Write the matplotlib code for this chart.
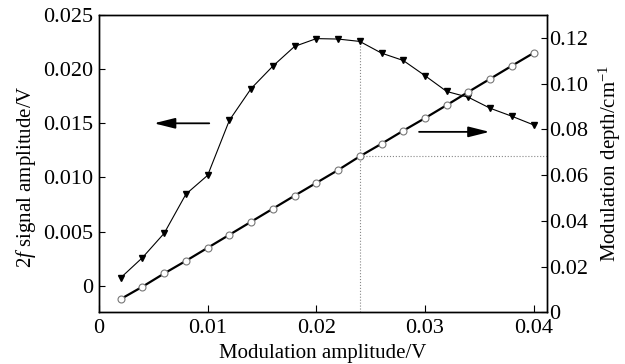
import numpy as np
import matplotlib
matplotlib.use("Agg")
import matplotlib.pyplot as plt

plt.rcParams['font.family'] = ['Liberation Serif', 'DejaVu Serif']
plt.rcParams['mathtext.fontset'] = 'custom'
plt.rcParams['mathtext.rm'] = 'Liberation Serif'
plt.rcParams['mathtext.it'] = 'Liberation Serif:italic'

# modulation amplitude (V)
mod_amp = [0.002, 0.004, 0.006, 0.008, 0.010, 0.012, 0.014, 0.016, 0.018, 0.020,
           0.022, 0.024, 0.026, 0.028, 0.030, 0.032, 0.034, 0.036, 0.038, 0.040]
# 2f signal amplitude (V), left axis
signal_2f = [0.00074, 0.0026, 0.00485, 0.00846, 0.0102, 0.01528, 0.01821, 0.02028, 0.0221, 0.02282,
             0.02278, 0.02256, 0.02148, 0.0208, 0.0194, 0.01794, 0.0174, 0.01639, 0.01565, 0.01485]
# modulation depth (cm^-1), right axis
mod_depth = [0.0058, 0.0112, 0.0170, 0.0225, 0.0282, 0.0339, 0.0396, 0.0453, 0.0510, 0.0566,
             0.0622, 0.0682, 0.0737, 0.0794, 0.0849, 0.0906, 0.0964, 0.1021, 0.1078, 0.1134]

x_ticks = [0, 0.01, 0.02, 0.03, 0.04]
x_labels = ['0', '0.01', '0.02', '0.03', '0.04']
left_ticks = [0, 0.005, 0.010, 0.015, 0.020, 0.025]
left_labels = ['0', '0.005', '0.010', '0.015', '0.020', '0.025']
right_ticks = [0, 0.02, 0.04, 0.06, 0.08, 0.10, 0.12]
right_labels = ['0', '0.02', '0.04', '0.06', '0.08', '0.10', '0.12']

marker_x = 0.024  # operating point

fs_tick = 16
fs_label = 15
fig = plt.figure(figsize=(6.25, 3.64), dpi=100)
ax = fig.add_axes([0.1584, 0.142, 0.7163, 0.8168])
ax2 = ax.twinx()

ax.plot(mod_amp, signal_2f, color='black', lw=0.8, marker='v', ms=5,
        mfc='black', mec='black', zorder=3)
ax2.plot(mod_amp, mod_depth, color='black', lw=1.6, marker='o', ms=5,
         mfc='white', mec='#777777', mew=0.8, zorder=3)

ax.set_xlim(0, 0.0412)
ax.set_ylim(-0.00245, 0.025)
ax2.set_ylim(0, 0.13)

# dotted guide lines at the operating point
i = mod_amp.index(marker_x)
ax.plot([marker_x, marker_x], [-0.00245, signal_2f[i]], color='#888888', lw=0.8, ls=':')
ax2.plot([marker_x, 0.0412], [mod_depth[i], mod_depth[i]], color='#888888', lw=0.8, ls=':')

# arrows pointing to respective axes
arrow_style = dict(arrowstyle='-|>,head_length=0.8,head_width=0.2', color='black',
                   lw=1.3, mutation_scale=16)
ax.annotate('', xy=(0.0048, 0.015), xytext=(0.0104, 0.015), arrowprops=arrow_style)
ax2.annotate('', xy=(0.0362, 0.0789), xytext=(0.0292, 0.0789), arrowprops=arrow_style)

ax.set_xticks(x_ticks)
ax.set_xticklabels(x_labels, fontsize=fs_tick)
ax.set_yticks(left_ticks)
ax.set_yticklabels(left_labels, fontsize=fs_tick)
ax2.set_yticks(right_ticks)
ax2.set_yticklabels(right_labels, fontsize=fs_tick)

ax.tick_params(axis='x', direction='in', length=5, width=0.8, pad=5)
ax.tick_params(axis='y', direction='in', length=4.5, width=0.8, pad=4)
ax2.tick_params(axis='y', direction='in', length=4.5, width=0.8, pad=2)

ax.set_xlabel('Modulation amplitude/V', fontsize=fs_label, labelpad=4)
ax.set_ylabel('2$f$ signal amplitude/V', fontsize=fs_label)
ax.yaxis.set_label_coords(-0.136, 0.455)
ax2.set_ylabel('Modulation depth/cm$^{-1}$', fontsize=fs_label, labelpad=6)

for a in (ax, ax2):
    for s in a.spines.values():
        s.set_linewidth(1.0)

fig.savefig('out.png', dpi=100)
